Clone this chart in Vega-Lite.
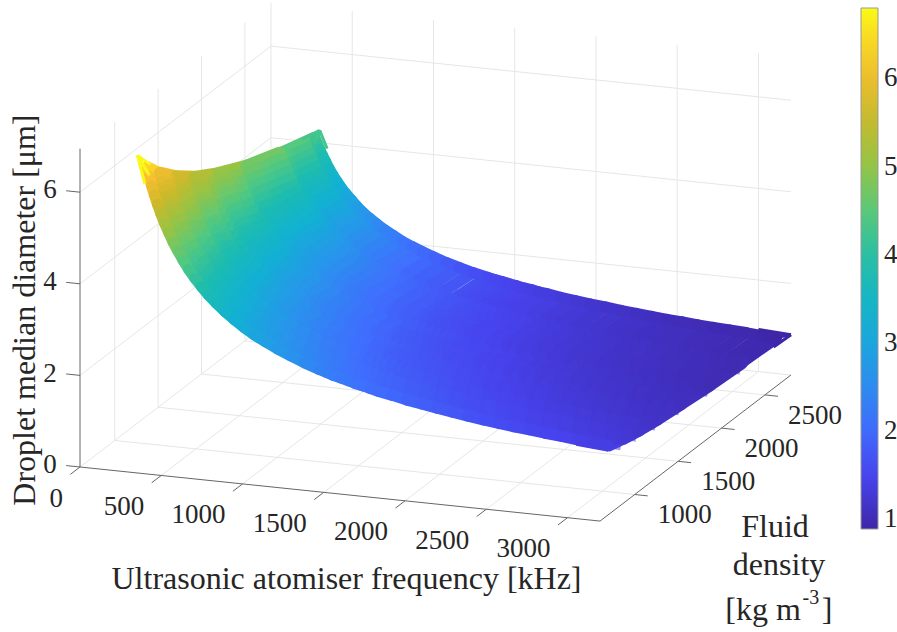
{"$schema":"https://vega.github.io/schema/vega-lite/v6.json","width":897,"height":632,"padding":0,"autosize":{"type":"none"},"background":"white","config":{"view":{"stroke":null},"text":{"font":"Liberation Serif","color":"#262626"}},
"datasets":{"surface":[
{"f":308,"r":790,"d":6.39},{"f":308,"r":950,"d":6.01},{"f":308,"r":1130,"d":5.67},{"f":308,"r":1350,"d":5.34},{"f":308,"r":1620,"d":5.03},{"f":308,"r":1950,"d":4.72},{"f":308,"r":2320,"d":4.46},{"f":308,"r":2730,"d":4.22},
{"f":323,"r":790,"d":6.19},{"f":323,"r":950,"d":5.82},{"f":323,"r":1130,"d":5.49},{"f":323,"r":1350,"d":5.18},{"f":323,"r":1620,"d":4.87},{"f":323,"r":1950,"d":4.58},{"f":323,"r":2320,"d":4.32},{"f":323,"r":2730,"d":4.09},
{"f":339,"r":790,"d":5.99},{"f":339,"r":950,"d":5.64},{"f":339,"r":1130,"d":5.32},{"f":339,"r":1350,"d":5.01},{"f":339,"r":1620,"d":4.72},{"f":339,"r":1950,"d":4.43},{"f":339,"r":2320,"d":4.18},{"f":339,"r":2730,"d":3.96},
{"f":356,"r":790,"d":5.8},{"f":356,"r":950,"d":5.46},{"f":356,"r":1130,"d":5.15},{"f":356,"r":1350,"d":4.85},{"f":356,"r":1620,"d":4.57},{"f":356,"r":1950,"d":4.29},{"f":356,"r":2320,"d":4.05},{"f":356,"r":2730,"d":3.84},
{"f":375,"r":790,"d":5.6},{"f":375,"r":950,"d":5.27},{"f":375,"r":1130,"d":4.97},{"f":375,"r":1350,"d":4.69},{"f":375,"r":1620,"d":4.41},{"f":375,"r":1950,"d":4.15},{"f":375,"r":2320,"d":3.91},{"f":375,"r":2730,"d":3.71},
{"f":396,"r":790,"d":5.4},{"f":396,"r":950,"d":5.08},{"f":396,"r":1130,"d":4.8},{"f":396,"r":1350,"d":4.52},{"f":396,"r":1620,"d":4.25},{"f":396,"r":1950,"d":4.0},{"f":396,"r":2320,"d":3.77},{"f":396,"r":2730,"d":3.57},
{"f":419,"r":790,"d":5.2},{"f":419,"r":950,"d":4.89},{"f":419,"r":1130,"d":4.62},{"f":419,"r":1350,"d":4.35},{"f":419,"r":1620,"d":4.1},{"f":419,"r":1950,"d":3.85},{"f":419,"r":2320,"d":3.63},{"f":419,"r":2730,"d":3.44},
{"f":444,"r":790,"d":5.01},{"f":444,"r":950,"d":4.71},{"f":444,"r":1130,"d":4.44},{"f":444,"r":1350,"d":4.19},{"f":444,"r":1620,"d":3.94},{"f":444,"r":1950,"d":3.7},{"f":444,"r":2320,"d":3.5},{"f":444,"r":2730,"d":3.31},
{"f":471,"r":790,"d":4.81},{"f":471,"r":950,"d":4.53},{"f":471,"r":1130,"d":4.27},{"f":471,"r":1350,"d":4.03},{"f":471,"r":1620,"d":3.79},{"f":471,"r":1950,"d":3.56},{"f":471,"r":2320,"d":3.36},{"f":471,"r":2730,"d":3.18},
{"f":500,"r":790,"d":4.63},{"f":500,"r":950,"d":4.35},{"f":500,"r":1130,"d":4.11},{"f":500,"r":1350,"d":3.87},{"f":500,"r":1620,"d":3.64},{"f":500,"r":1950,"d":3.42},{"f":500,"r":2320,"d":3.23},{"f":500,"r":2730,"d":3.06},
{"f":532,"r":790,"d":4.44},{"f":532,"r":950,"d":4.17},{"f":532,"r":1130,"d":3.94},{"f":532,"r":1350,"d":3.71},{"f":532,"r":1620,"d":3.49},{"f":532,"r":1950,"d":3.28},{"f":532,"r":2320,"d":3.1},{"f":532,"r":2730,"d":2.94},
{"f":567,"r":790,"d":4.25},{"f":567,"r":950,"d":4.0},{"f":567,"r":1130,"d":3.78},{"f":567,"r":1350,"d":3.56},{"f":567,"r":1620,"d":3.35},{"f":567,"r":1950,"d":3.15},{"f":567,"r":2320,"d":2.97},{"f":567,"r":2730,"d":2.81},
{"f":605,"r":790,"d":4.07},{"f":605,"r":950,"d":3.83},{"f":605,"r":1130,"d":3.62},{"f":605,"r":1350,"d":3.41},{"f":605,"r":1620,"d":3.21},{"f":605,"r":1950,"d":3.01},{"f":605,"r":2320,"d":2.84},{"f":605,"r":2730,"d":2.69},
{"f":646,"r":790,"d":3.9},{"f":646,"r":950,"d":3.67},{"f":646,"r":1130,"d":3.46},{"f":646,"r":1350,"d":3.26},{"f":646,"r":1620,"d":3.07},{"f":646,"r":1950,"d":2.88},{"f":646,"r":2320,"d":2.72},{"f":646,"r":2730,"d":2.58},
{"f":690,"r":790,"d":3.73},{"f":690,"r":950,"d":3.51},{"f":690,"r":1130,"d":3.31},{"f":690,"r":1350,"d":3.12},{"f":690,"r":1620,"d":2.94},{"f":690,"r":1950,"d":2.76},{"f":690,"r":2320,"d":2.6},{"f":690,"r":2730,"d":2.47},
{"f":738,"r":790,"d":3.57},{"f":738,"r":950,"d":3.36},{"f":738,"r":1130,"d":3.17},{"f":738,"r":1350,"d":2.98},{"f":738,"r":1620,"d":2.81},{"f":738,"r":1950,"d":2.64},{"f":738,"r":2320,"d":2.49},{"f":738,"r":2730,"d":2.36},
{"f":790,"r":790,"d":3.41},{"f":790,"r":950,"d":3.21},{"f":790,"r":1130,"d":3.03},{"f":790,"r":1350,"d":2.85},{"f":790,"r":1620,"d":2.68},{"f":790,"r":1950,"d":2.52},{"f":790,"r":2320,"d":2.38},{"f":790,"r":2730,"d":2.26},
{"f":846,"r":790,"d":3.26},{"f":846,"r":950,"d":3.06},{"f":846,"r":1130,"d":2.89},{"f":846,"r":1350,"d":2.73},{"f":846,"r":1620,"d":2.57},{"f":846,"r":1950,"d":2.41},{"f":846,"r":2320,"d":2.27},{"f":846,"r":2730,"d":2.15},
{"f":906,"r":790,"d":3.11},{"f":906,"r":950,"d":2.93},{"f":906,"r":1130,"d":2.76},{"f":906,"r":1350,"d":2.6},{"f":906,"r":1620,"d":2.45},{"f":906,"r":1950,"d":2.3},{"f":906,"r":2320,"d":2.17},{"f":906,"r":2730,"d":2.06},
{"f":970,"r":790,"d":2.97},{"f":970,"r":950,"d":2.8},{"f":970,"r":1130,"d":2.64},{"f":970,"r":1350,"d":2.49},{"f":970,"r":1620,"d":2.34},{"f":970,"r":1950,"d":2.2},{"f":970,"r":2320,"d":2.08},{"f":970,"r":2730,"d":1.97},
{"f":1040,"r":790,"d":2.84},{"f":1040,"r":950,"d":2.67},{"f":1040,"r":1130,"d":2.52},{"f":1040,"r":1350,"d":2.37},{"f":1040,"r":1620,"d":2.24},{"f":1040,"r":1950,"d":2.1},{"f":1040,"r":2320,"d":1.98},{"f":1040,"r":2730,"d":1.88},
{"f":1115,"r":790,"d":2.71},{"f":1115,"r":950,"d":2.55},{"f":1115,"r":1130,"d":2.41},{"f":1115,"r":1350,"d":2.27},{"f":1115,"r":1620,"d":2.13},{"f":1115,"r":1950,"d":2.01},{"f":1115,"r":2320,"d":1.89},{"f":1115,"r":2730,"d":1.79},
{"f":1195,"r":790,"d":2.59},{"f":1195,"r":950,"d":2.43},{"f":1195,"r":1130,"d":2.3},{"f":1195,"r":1350,"d":2.16},{"f":1195,"r":1620,"d":2.04},{"f":1195,"r":1950,"d":1.91},{"f":1195,"r":2320,"d":1.81},{"f":1195,"r":2730,"d":1.71},
{"f":1280,"r":790,"d":2.47},{"f":1280,"r":950,"d":2.32},{"f":1280,"r":1130,"d":2.19},{"f":1280,"r":1350,"d":2.07},{"f":1280,"r":1620,"d":1.95},{"f":1280,"r":1950,"d":1.83},{"f":1280,"r":2320,"d":1.73},{"f":1280,"r":2730,"d":1.63},
{"f":1370,"r":790,"d":2.36},{"f":1370,"r":950,"d":2.22},{"f":1370,"r":1130,"d":2.1},{"f":1370,"r":1350,"d":1.98},{"f":1370,"r":1620,"d":1.86},{"f":1370,"r":1950,"d":1.75},{"f":1370,"r":2320,"d":1.65},{"f":1370,"r":2730,"d":1.56},
{"f":1415,"r":790,"d":2.31},{"f":1415,"r":950,"d":2.17},{"f":1415,"r":1130,"d":2.05},{"f":1415,"r":1350,"d":1.93},{"f":1415,"r":1620,"d":1.82},{"f":1415,"r":1950,"d":1.71},{"f":1415,"r":2320,"d":1.61},{"f":1415,"r":2730,"d":1.53},
{"f":1460,"r":790,"d":2.26},{"f":1460,"r":950,"d":2.13},{"f":1460,"r":1130,"d":2.01},{"f":1460,"r":1350,"d":1.89},{"f":1460,"r":1620,"d":1.78},{"f":1460,"r":1950,"d":1.67},{"f":1460,"r":2320,"d":1.58},{"f":1460,"r":2730,"d":1.5},
{"f":1505,"r":790,"d":2.22},{"f":1505,"r":950,"d":2.09},{"f":1505,"r":1130,"d":1.97},{"f":1505,"r":1350,"d":1.86},{"f":1505,"r":1620,"d":1.75},{"f":1505,"r":1950,"d":1.64},{"f":1505,"r":2320,"d":1.55},{"f":1505,"r":2730,"d":1.47},
{"f":1550,"r":790,"d":2.18},{"f":1550,"r":950,"d":2.05},{"f":1550,"r":1130,"d":1.93},{"f":1550,"r":1350,"d":1.82},{"f":1550,"r":1620,"d":1.71},{"f":1550,"r":1950,"d":1.61},{"f":1550,"r":2320,"d":1.52},{"f":1550,"r":2730,"d":1.44},
{"f":1595,"r":790,"d":2.13},{"f":1595,"r":950,"d":2.01},{"f":1595,"r":1130,"d":1.89},{"f":1595,"r":1350,"d":1.79},{"f":1595,"r":1620,"d":1.68},{"f":1595,"r":1950,"d":1.58},{"f":1595,"r":2320,"d":1.49},{"f":1595,"r":2730,"d":1.41},
{"f":1640,"r":790,"d":2.1},{"f":1640,"r":950,"d":1.97},{"f":1640,"r":1130,"d":1.86},{"f":1640,"r":1350,"d":1.75},{"f":1640,"r":1620,"d":1.65},{"f":1640,"r":1950,"d":1.55},{"f":1640,"r":2320,"d":1.46},{"f":1640,"r":2730,"d":1.39},
{"f":1685,"r":790,"d":2.06},{"f":1685,"r":950,"d":1.94},{"f":1685,"r":1130,"d":1.83},{"f":1685,"r":1350,"d":1.72},{"f":1685,"r":1620,"d":1.62},{"f":1685,"r":1950,"d":1.52},{"f":1685,"r":2320,"d":1.44},{"f":1685,"r":2730,"d":1.36},
{"f":1730,"r":790,"d":2.02},{"f":1730,"r":950,"d":1.9},{"f":1730,"r":1130,"d":1.79},{"f":1730,"r":1350,"d":1.69},{"f":1730,"r":1620,"d":1.59},{"f":1730,"r":1950,"d":1.5},{"f":1730,"r":2320,"d":1.41},{"f":1730,"r":2730,"d":1.34},
{"f":1820,"r":790,"d":1.96},{"f":1820,"r":950,"d":1.84},{"f":1820,"r":1130,"d":1.74},{"f":1820,"r":1350,"d":1.64},{"f":1820,"r":1620,"d":1.54},{"f":1820,"r":1950,"d":1.45},{"f":1820,"r":2320,"d":1.37},{"f":1820,"r":2730,"d":1.29},
{"f":1910,"r":790,"d":1.89},{"f":1910,"r":950,"d":1.78},{"f":1910,"r":1130,"d":1.68},{"f":1910,"r":1350,"d":1.58},{"f":1910,"r":1620,"d":1.49},{"f":1910,"r":1950,"d":1.4},{"f":1910,"r":2320,"d":1.32},{"f":1910,"r":2730,"d":1.25},
{"f":2000,"r":790,"d":1.84},{"f":2000,"r":950,"d":1.73},{"f":2000,"r":1130,"d":1.63},{"f":2000,"r":1350,"d":1.54},{"f":2000,"r":1620,"d":1.45},{"f":2000,"r":1950,"d":1.36},{"f":2000,"r":2320,"d":1.28},{"f":2000,"r":2730,"d":1.21},
{"f":2095,"r":790,"d":1.78},{"f":2095,"r":950,"d":1.67},{"f":2095,"r":1130,"d":1.58},{"f":2095,"r":1350,"d":1.49},{"f":2095,"r":1620,"d":1.4},{"f":2095,"r":1950,"d":1.32},{"f":2095,"r":2320,"d":1.24},{"f":2095,"r":2730,"d":1.18},
{"f":2190,"r":790,"d":1.73},{"f":2190,"r":950,"d":1.62},{"f":2190,"r":1130,"d":1.53},{"f":2190,"r":1350,"d":1.45},{"f":2190,"r":1620,"d":1.36},{"f":2190,"r":1950,"d":1.28},{"f":2190,"r":2320,"d":1.21},{"f":2190,"r":2730,"d":1.14},
{"f":2285,"r":790,"d":1.68},{"f":2285,"r":950,"d":1.58},{"f":2285,"r":1130,"d":1.49},{"f":2285,"r":1350,"d":1.41},{"f":2285,"r":1620,"d":1.32},{"f":2285,"r":1950,"d":1.24},{"f":2285,"r":2320,"d":1.17},{"f":2285,"r":2730,"d":1.11},
{"f":2380,"r":790,"d":1.63},{"f":2380,"r":950,"d":1.54},{"f":2380,"r":1130,"d":1.45},{"f":2380,"r":1350,"d":1.37},{"f":2380,"r":1620,"d":1.29},{"f":2380,"r":1950,"d":1.21},{"f":2380,"r":2320,"d":1.14},{"f":2380,"r":2730,"d":1.08},
{"f":2475,"r":790,"d":1.59},{"f":2475,"r":950,"d":1.5},{"f":2475,"r":1130,"d":1.41},{"f":2475,"r":1350,"d":1.33},{"f":2475,"r":1620,"d":1.25},{"f":2475,"r":1950,"d":1.18},{"f":2475,"r":2320,"d":1.11},{"f":2475,"r":2730,"d":1.05},
{"f":2570,"r":790,"d":1.55},{"f":2570,"r":950,"d":1.46},{"f":2570,"r":1130,"d":1.38},{"f":2570,"r":1350,"d":1.3},{"f":2570,"r":1620,"d":1.22},{"f":2570,"r":1950,"d":1.15},{"f":2570,"r":2320,"d":1.08},{"f":2570,"r":2730,"d":1.03},
{"f":2665,"r":790,"d":1.52},{"f":2665,"r":950,"d":1.43},{"f":2665,"r":1130,"d":1.35},{"f":2665,"r":1350,"d":1.27},{"f":2665,"r":1620,"d":1.19},{"f":2665,"r":1950,"d":1.12},{"f":2665,"r":2320,"d":1.06},{"f":2665,"r":2730,"d":1.0},
{"f":2760,"r":790,"d":1.48},{"f":2760,"r":950,"d":1.39},{"f":2760,"r":1130,"d":1.31},{"f":2760,"r":1350,"d":1.24},{"f":2760,"r":1620,"d":1.17},{"f":2760,"r":1950,"d":1.1},{"f":2760,"r":2320,"d":1.03},{"f":2760,"r":2730,"d":0.98},
{"f":2860,"r":790,"d":1.45},{"f":2860,"r":950,"d":1.36},{"f":2860,"r":1130,"d":1.28},{"f":2860,"r":1350,"d":1.21},{"f":2860,"r":1620,"d":1.14},{"f":2860,"r":1950,"d":1.07},{"f":2860,"r":2320,"d":1.01},{"f":2860,"r":2730,"d":0.96},
{"f":2960,"r":790,"d":1.41},{"f":2960,"r":950,"d":1.33},{"f":2960,"r":1130,"d":1.25},{"f":2960,"r":1350,"d":1.18},{"f":2960,"r":1620,"d":1.11},{"f":2960,"r":1950,"d":1.05},{"f":2960,"r":2320,"d":0.99},{"f":2960,"r":2730,"d":0.94},
{"f":3060,"r":790,"d":1.38},{"f":3060,"r":950,"d":1.3},{"f":3060,"r":1130,"d":1.23},{"f":3060,"r":1350,"d":1.16},{"f":3060,"r":1620,"d":1.09},{"f":3060,"r":1950,"d":1.02},{"f":3060,"r":2320,"d":0.96},{"f":3060,"r":2730,"d":0.91},
{"f":3150,"r":790,"d":1.36},{"f":3150,"r":950,"d":1.28},{"f":3150,"r":1130,"d":1.2},{"f":3150,"r":1350,"d":1.13},{"f":3150,"r":1620,"d":1.07},{"f":3150,"r":1950,"d":1.0},{"f":3150,"r":2320,"d":0.95},{"f":3150,"r":2730,"d":0.9}
],
"corners":[
{"f":300,"r":700,"d":6.77,"f2":300,"r2":850,"d2":6.35},{"f":300,"r":700,"d":6.77,"f2":310,"r2":750,"d2":6.47},{"f":300,"r":700,"d":6.77,"f2":320,"r2":800,"d2":6.2},{"f":300,"r":700,"d":6.77,"f2":345,"r2":700,"d2":6.17},
{"f":300,"r":2800,"d":4.27,"f2":300,"r2":2600,"d2":4.37},{"f":300,"r":2800,"d":4.27,"f2":310,"r2":2750,"d2":4.19},{"f":300,"r":2800,"d":4.27,"f2":320,"r2":2700,"d2":4.14},{"f":300,"r":2800,"d":4.27,"f2":345,"r2":2800,"d2":3.89},
{"f":3200,"r":700,"d":1.4,"f2":3200,"r2":850,"d2":1.31},{"f":3200,"r":700,"d":1.4,"f2":3150,"r2":750,"d2":1.38},{"f":3200,"r":700,"d":1.4,"f2":3100,"r2":800,"d2":1.365},{"f":3200,"r":700,"d":1.4,"f2":3000,"r2":700,"d2":1.458},
{"f":3200,"r":2800,"d":0.88,"f2":3200,"r2":2600,"d2":0.9},{"f":3200,"r":2800,"d":0.88,"f2":3150,"r2":2750,"d2":0.89},{"f":3200,"r":2800,"d":0.88,"f2":3100,"r2":2700,"d2":0.91},{"f":3200,"r":2800,"d":0.88,"f2":3000,"r2":2800,"d2":0.92}
],
"grid":[
{"f":0,"r":600,"d":0,"f2":0,"r2":2800,"d2":0},{"f":500,"r":600,"d":0,"f2":500,"r2":2800,"d2":0},{"f":1000,"r":600,"d":0,"f2":1000,"r2":2800,"d2":0},{"f":1500,"r":600,"d":0,"f2":1500,"r2":2800,"d2":0},{"f":2000,"r":600,"d":0,"f2":2000,"r2":2800,"d2":0},{"f":2500,"r":600,"d":0,"f2":2500,"r2":2800,"d2":0},{"f":3000,"r":600,"d":0,"f2":3000,"r2":2800,"d2":0},
{"f":0,"r":1000,"d":0,"f2":3200,"r2":1000,"d2":0},{"f":0,"r":1500,"d":0,"f2":3200,"r2":1500,"d2":0},{"f":0,"r":2000,"d":0,"f2":3200,"r2":2000,"d2":0},{"f":0,"r":2500,"d":0,"f2":3200,"r2":2500,"d2":0},{"f":0,"r":2800,"d":0,"f2":3200,"r2":2800,"d2":0},
{"f":0,"r":2800,"d":2,"f2":3200,"r2":2800,"d2":2},{"f":0,"r":2800,"d":4,"f2":3200,"r2":2800,"d2":4},{"f":0,"r":2800,"d":6,"f2":3200,"r2":2800,"d2":6},
{"f":500,"r":2800,"d":0,"f2":500,"r2":2800,"d2":6.95},{"f":1000,"r":2800,"d":0,"f2":1000,"r2":2800,"d2":6.95},{"f":1500,"r":2800,"d":0,"f2":1500,"r2":2800,"d2":6.95},{"f":2000,"r":2800,"d":0,"f2":2000,"r2":2800,"d2":6.95},{"f":2500,"r":2800,"d":0,"f2":2500,"r2":2800,"d2":6.95},{"f":3000,"r":2800,"d":0,"f2":3000,"r2":2800,"d2":6.95},
{"f":0,"r":600,"d":2,"f2":0,"r2":2800,"d2":2},{"f":0,"r":600,"d":4,"f2":0,"r2":2800,"d2":4},{"f":0,"r":600,"d":6,"f2":0,"r2":2800,"d2":6},
{"f":0,"r":1000,"d":0,"f2":0,"r2":1000,"d2":6.95},{"f":0,"r":1500,"d":0,"f2":0,"r2":1500,"d2":6.95},{"f":0,"r":2000,"d":0,"f2":0,"r2":2000,"d2":6.95},{"f":0,"r":2500,"d":0,"f2":0,"r2":2500,"d2":6.95},{"f":0,"r":2800,"d":0,"f2":0,"r2":2800,"d2":6.95}
],
"axes":[
{"f":0,"r":600,"d":0,"f2":3200,"r2":600,"d2":0},{"f":3200,"r":600,"d":0,"f2":3200,"r2":2800,"d2":0},{"f":0,"r":600,"d":0,"f2":0,"r2":600,"d2":6.95},
{"f":0,"r":600,"d":0,"f2":0,"r2":490,"d2":0},{"f":500,"r":600,"d":0,"f2":500,"r2":490,"d2":0},{"f":1000,"r":600,"d":0,"f2":1000,"r2":490,"d2":0},{"f":1500,"r":600,"d":0,"f2":1500,"r2":490,"d2":0},{"f":2000,"r":600,"d":0,"f2":2000,"r2":490,"d2":0},{"f":2500,"r":600,"d":0,"f2":2500,"r2":490,"d2":0},{"f":3000,"r":600,"d":0,"f2":3000,"r2":490,"d2":0},
{"f":3200,"r":1000,"d":0,"f2":3280,"r2":1000,"d2":0},{"f":3200,"r":1500,"d":0,"f2":3280,"r2":1500,"d2":0},{"f":3200,"r":2000,"d":0,"f2":3280,"r2":2000,"d2":0},{"f":3200,"r":2500,"d":0,"f2":3280,"r2":2500,"d2":0},
{"f":0,"r":600,"d":0,"f2":-85,"r2":600,"d2":0},{"f":0,"r":600,"d":2,"f2":-85,"r2":600,"d2":2},{"f":0,"r":600,"d":4,"f2":-85,"r2":600,"d2":4},{"f":0,"r":600,"d":6,"f2":-85,"r2":600,"d2":6}
]},
"layer":[
{"data":{"name":"grid"},"mark":{"type":"rule","stroke":"#e6e6e6","strokeWidth":1},"transform":[{"calculate":"80+0.1625*datum.f+0.0868*(datum.r-600)","as":"X"},{"calculate":"467+0.0169*datum.f-0.0664*(datum.r-600)-45.8*datum.d","as":"Y"},{"calculate":"80+0.1625*datum.f2+0.0868*(datum.r2-600)","as":"X2"},{"calculate":"467+0.0169*datum.f2-0.0664*(datum.r2-600)-45.8*datum.d2","as":"Y2"}],"encoding":{"x":{"field":"X","type":"quantitative","scale":{"domain":[0,897],"range":[0,897],"nice":false,"zero":false},"axis":null},"y":{"field":"Y","type":"quantitative","scale":{"domain":[0,632],"range":[0,632],"nice":false,"zero":false},"axis":null},"x2":{"field":"X2"},"y2":{"field":"Y2"}}},
{"data":{"name":"axes"},"mark":{"type":"rule","stroke":"#666666","strokeWidth":1},"transform":[{"calculate":"80+0.1625*datum.f+0.0868*(datum.r-600)","as":"X"},{"calculate":"467+0.0169*datum.f-0.0664*(datum.r-600)-45.8*datum.d","as":"Y"},{"calculate":"80+0.1625*datum.f2+0.0868*(datum.r2-600)","as":"X2"},{"calculate":"467+0.0169*datum.f2-0.0664*(datum.r2-600)-45.8*datum.d2","as":"Y2"}],"encoding":{"x":{"field":"X","type":"quantitative","scale":{"domain":[0,897],"range":[0,897],"nice":false,"zero":false},"axis":null},"y":{"field":"Y","type":"quantitative","scale":{"domain":[0,632],"range":[0,632],"nice":false,"zero":false},"axis":null},"x2":{"field":"X2"},"y2":{"field":"Y2"}}},
{"data":{"name":"surface"},"mark":{"type":"rule","strokeWidth":12,"strokeCap":"butt"},"transform":[{"window":[{"op":"lead","field":"r","as":"r2"},{"op":"lead","field":"d","as":"d2"}],"groupby":["f"],"sort":[{"field":"r","order":"ascending"}]},{"filter":"datum.r==790||datum.r==2320"},{"calculate":"80+0.1625*datum.f+0.0868*(datum.r-600)","as":"X"},{"calculate":"467+0.0169*datum.f-0.0664*(datum.r-600)-45.8*datum.d","as":"Y"},{"calculate":"80+0.1625*datum.f+0.0868*(datum.r2-600)","as":"X2"},{"calculate":"467+0.0169*datum.f-0.0664*(datum.r2-600)-45.8*datum.d2","as":"Y2"}],"encoding":{"x":{"field":"X","type":"quantitative","scale":{"domain":[0,897],"range":[0,897],"nice":false,"zero":false},"axis":null},"y":{"field":"Y","type":"quantitative","scale":{"domain":[0,632],"range":[0,632],"nice":false,"zero":false},"axis":null},"x2":{"field":"X2"},"y2":{"field":"Y2"},"color":{"field":"d","type":"quantitative","scale":{"domain":[0.886,6.8],"range":["#3E26A8","#4743EE","#3F6FFE","#2796EB","#12B1D3","#1CBCB0","#52C980","#96C445","#CDB92A","#FBC030","#F9FB15"],"interpolate":"rgb","nice":false,"zero":false},"legend":{"orient":"none","legendX":861,"legendY":8,"title":null,"values":[1,2,3,4,5,6],"format":"d","gradientLength":521,"gradientThickness":17,"gradientOpacity":1,"gradientStrokeColor":"#999999","gradientStrokeWidth":1,"labelFont":"Liberation Serif","labelFontSize":27,"labelColor":"#262626","labelOffset":6,"labelOverlap":false}}}},
{"data":{"name":"surface"},"mark":{"type":"rule","strokeWidth":14,"strokeCap":"round"},"transform":[{"window":[{"op":"lead","field":"r","as":"r2"},{"op":"lead","field":"d","as":"d2"}],"groupby":["f"],"sort":[{"field":"r","order":"ascending"}]},{"filter":"datum.r>=950&&datum.r<=1950"},{"calculate":"80+0.1625*datum.f+0.0868*(datum.r-600)","as":"X"},{"calculate":"467+0.0169*datum.f-0.0664*(datum.r-600)-45.8*datum.d","as":"Y"},{"calculate":"80+0.1625*datum.f+0.0868*(datum.r2-600)","as":"X2"},{"calculate":"467+0.0169*datum.f-0.0664*(datum.r2-600)-45.8*datum.d2","as":"Y2"}],"encoding":{"x":{"field":"X","type":"quantitative","scale":{"domain":[0,897],"range":[0,897],"nice":false,"zero":false},"axis":null},"y":{"field":"Y","type":"quantitative","scale":{"domain":[0,632],"range":[0,632],"nice":false,"zero":false},"axis":null},"x2":{"field":"X2"},"y2":{"field":"Y2"},"color":{"field":"d","type":"quantitative"}}},
{"data":{"name":"surface"},"mark":{"type":"rule","strokeWidth":24,"strokeCap":"butt","strokeOpacity":0.5},"transform":[{"filter":"datum.r>790&&datum.r<2730"},{"window":[{"op":"lead","field":"f","as":"f2"},{"op":"lead","field":"d","as":"d2"}],"groupby":["r"],"sort":[{"field":"f","order":"ascending"}]},{"filter":"isValid(datum.f2)"},{"calculate":"80+0.1625*datum.f+0.0868*(datum.r-600)","as":"X"},{"calculate":"467+0.0169*datum.f-0.0664*(datum.r-600)-45.8*datum.d","as":"Y"},{"calculate":"80+0.1625*datum.f2+0.0868*(datum.r-600)","as":"X2"},{"calculate":"467+0.0169*datum.f2-0.0664*(datum.r-600)-45.8*datum.d2","as":"Y2"}],"encoding":{"x":{"field":"X","type":"quantitative","scale":{"domain":[0,897],"range":[0,897],"nice":false,"zero":false},"axis":null},"y":{"field":"Y","type":"quantitative","scale":{"domain":[0,632],"range":[0,632],"nice":false,"zero":false},"axis":null},"x2":{"field":"X2"},"y2":{"field":"Y2"},"color":{"field":"d","type":"quantitative"}}},
{"data":{"name":"surface"},"mark":{"type":"rule","strokeWidth":11,"strokeCap":"round"},"transform":[{"filter":"datum.r==790||datum.r==2730"},{"window":[{"op":"lead","field":"f","as":"f2"},{"op":"lead","field":"d","as":"d2"}],"groupby":["r"],"sort":[{"field":"f","order":"ascending"}]},{"filter":"isValid(datum.f2)"},{"calculate":"80+0.1625*datum.f+0.0868*(datum.r-600)","as":"X"},{"calculate":"467+0.0169*datum.f-0.0664*(datum.r-600)-45.8*datum.d","as":"Y"},{"calculate":"80+0.1625*datum.f2+0.0868*(datum.r-600)","as":"X2"},{"calculate":"467+0.0169*datum.f2-0.0664*(datum.r-600)-45.8*datum.d2","as":"Y2"}],"encoding":{"x":{"field":"X","type":"quantitative","scale":{"domain":[0,897],"range":[0,897],"nice":false,"zero":false},"axis":null},"y":{"field":"Y","type":"quantitative","scale":{"domain":[0,632],"range":[0,632],"nice":false,"zero":false},"axis":null},"x2":{"field":"X2"},"y2":{"field":"Y2"},"color":{"field":"d","type":"quantitative"}}},
{"data":{"name":"corners"},"mark":{"type":"rule","strokeWidth":3,"strokeCap":"butt"},"transform":[{"calculate":"80+0.1625*datum.f+0.0868*(datum.r-600)","as":"X"},{"calculate":"467+0.0169*datum.f-0.0664*(datum.r-600)-45.8*datum.d","as":"Y"},{"calculate":"80+0.1625*datum.f2+0.0868*(datum.r2-600)","as":"X2"},{"calculate":"467+0.0169*datum.f2-0.0664*(datum.r2-600)-45.8*datum.d2","as":"Y2"}],"encoding":{"x":{"field":"X","type":"quantitative","scale":{"domain":[0,897],"range":[0,897],"nice":false,"zero":false},"axis":null},"y":{"field":"Y","type":"quantitative","scale":{"domain":[0,632],"range":[0,632],"nice":false,"zero":false},"axis":null},"x2":{"field":"X2"},"y2":{"field":"Y2"},"color":{"field":"d","type":"quantitative"}}},
{"data":{"values":[{"t":"0","f":0,"r":405,"d":-0.407},{"t":"500","f":500,"r":405,"d":-0.407},{"t":"1000","f":1000,"r":405,"d":-0.407},{"t":"1500","f":1500,"r":405,"d":-0.407},{"t":"2000","f":2000,"r":405,"d":-0.407},{"t":"2500","f":2500,"r":405,"d":-0.407},{"t":"3000","f":3000,"r":405,"d":-0.407}]},"mark":{"type":"text","fontSize":27,"align":"right","baseline":"middle"},"transform":[{"calculate":"80+0.1625*datum.f+0.0868*(datum.r-600)","as":"X"},{"calculate":"467+0.0169*datum.f-0.0664*(datum.r-600)-45.8*datum.d","as":"Y"}],"encoding":{"x":{"field":"X","type":"quantitative","scale":{"domain":[0,897],"range":[0,897],"nice":false,"zero":false},"axis":null},"y":{"field":"Y","type":"quantitative","scale":{"domain":[0,632],"range":[0,632],"nice":false,"zero":false},"axis":null},"text":{"field":"t"}}},
{"data":{"values":[{"t":"1000","f":3508,"r":1000,"d":-0.336},{"t":"1500","f":3508,"r":1500,"d":-0.336},{"t":"2000","f":3508,"r":2000,"d":-0.336},{"t":"2500","f":3508,"r":2500,"d":-0.336},{"t":"0","f":-185,"r":600,"d":-0.03},{"t":"2","f":-185,"r":600,"d":1.97},{"t":"4","f":-185,"r":600,"d":3.97},{"t":"6","f":-185,"r":600,"d":5.97}]},"mark":{"type":"text","fontSize":27,"align":"center","baseline":"middle"},"transform":[{"calculate":"80+0.1625*datum.f+0.0868*(datum.r-600)","as":"X"},{"calculate":"467+0.0169*datum.f-0.0664*(datum.r-600)-45.8*datum.d","as":"Y"}],"encoding":{"x":{"field":"X","type":"quantitative","scale":{"domain":[0,897],"range":[0,897],"nice":false,"zero":false},"axis":null},"y":{"field":"Y","type":"quantitative","scale":{"domain":[0,632],"range":[0,632],"nice":false,"zero":false},"axis":null},"text":{"field":"t"}}},
{"data":{"values":[{"t":"Ultrasonic atomiser frequency [kHz]","f":1640,"r":600,"d":-1.85},{"t":"Fluid","f":4277,"r":600,"d":0.27},{"t":"density","f":4302,"r":600,"d":-0.55},{"t":"[kg m","f":4203,"r":600,"d":-1.57},{"t":"]","f":4597,"r":600,"d":-1.43}]},"mark":{"type":"text","fontSize":32,"align":"center","baseline":"middle"},"transform":[{"calculate":"80+0.1625*datum.f+0.0868*(datum.r-600)","as":"X"},{"calculate":"467+0.0169*datum.f-0.0664*(datum.r-600)-45.8*datum.d","as":"Y"}],"encoding":{"x":{"field":"X","type":"quantitative","scale":{"domain":[0,897],"range":[0,897],"nice":false,"zero":false},"axis":null},"y":{"field":"Y","type":"quantitative","scale":{"domain":[0,632],"range":[0,632],"nice":false,"zero":false},"axis":null},"text":{"field":"t"}}},
{"data":{"values":[{"t":"-3","f":4498,"r":600,"d":-1.2}]},"mark":{"type":"text","fontSize":20,"align":"center","baseline":"middle"},"transform":[{"calculate":"80+0.1625*datum.f+0.0868*(datum.r-600)","as":"X"},{"calculate":"467+0.0169*datum.f-0.0664*(datum.r-600)-45.8*datum.d","as":"Y"}],"encoding":{"x":{"field":"X","type":"quantitative","scale":{"domain":[0,897],"range":[0,897],"nice":false,"zero":false},"axis":null},"y":{"field":"Y","type":"quantitative","scale":{"domain":[0,632],"range":[0,632],"nice":false,"zero":false},"axis":null},"text":{"field":"t"}}},
{"data":{"values":[{"t":"Droplet median diameter [μm]","f":-340,"r":600,"d":3.3}]},"mark":{"type":"text","fontSize":32,"align":"center","baseline":"middle","angle":270},"transform":[{"calculate":"80+0.1625*datum.f+0.0868*(datum.r-600)","as":"X"},{"calculate":"467+0.0169*datum.f-0.0664*(datum.r-600)-45.8*datum.d","as":"Y"}],"encoding":{"x":{"field":"X","type":"quantitative","scale":{"domain":[0,897],"range":[0,897],"nice":false,"zero":false},"axis":null},"y":{"field":"Y","type":"quantitative","scale":{"domain":[0,632],"range":[0,632],"nice":false,"zero":false},"axis":null},"text":{"field":"t"}}}
]}
